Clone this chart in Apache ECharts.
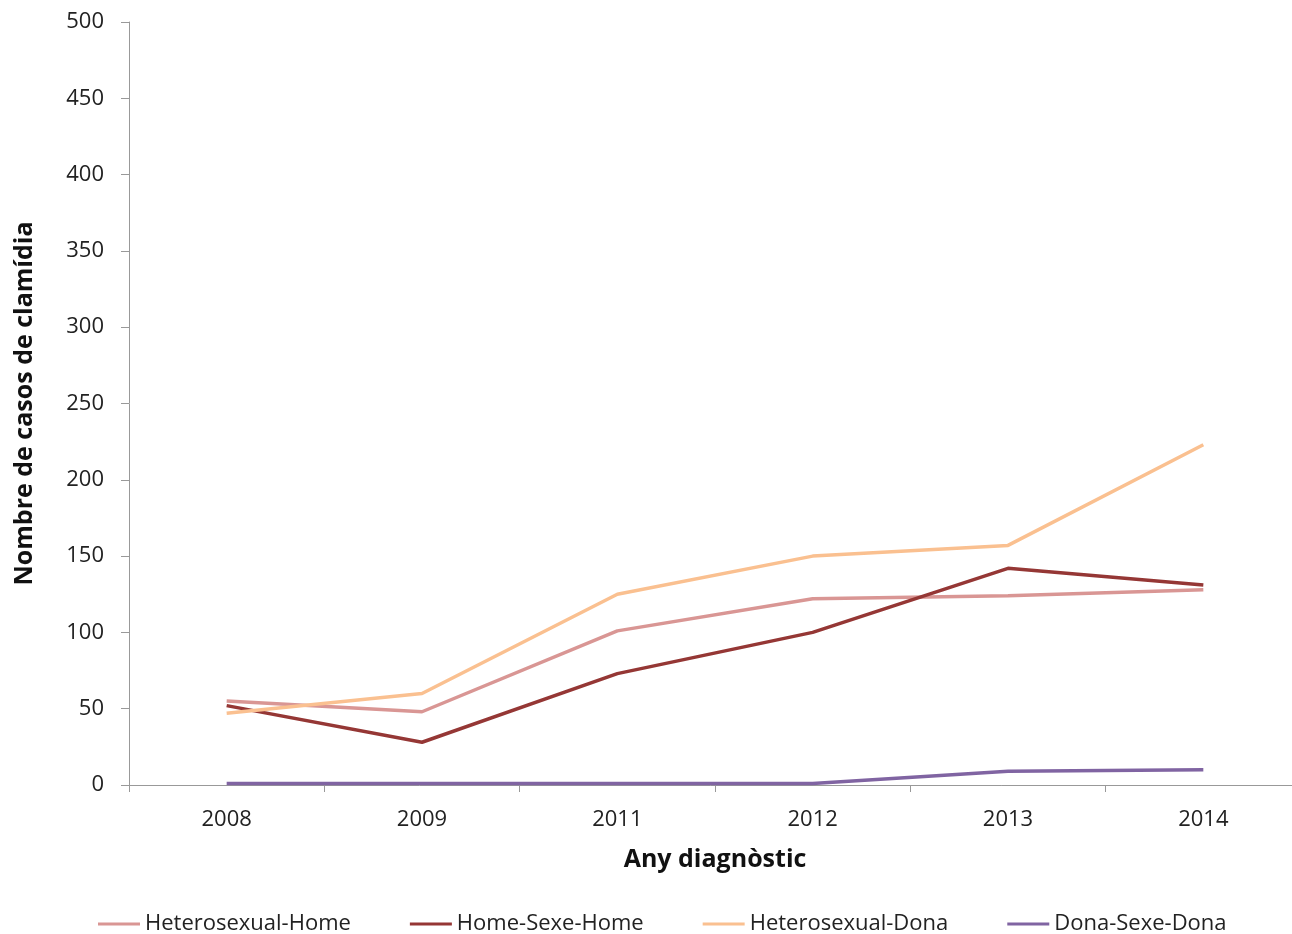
<!DOCTYPE html>
<html>
<head>
<meta charset="utf-8">
<script src="https://cdn.jsdelivr.net/npm/echarts@6/dist/echarts.min.js"></script>
<style>
  html, body { margin: 0; padding: 0; background: #ffffff; }
  #chart { width: 1292px; height: 934px; }
</style>
</head>
<body>
<div id="chart"></div>
<script>
// Diagnosis years on the category axis
const years = ['2008', '2009', '2011', '2012', '2013', '2014'];

// Chlamydia cases per transmission group
const heteroHome = [55, 48, 101, 122, 124, 128];
const homeSexeHome = [52, 28, 73, 100, 142, 131];
const heteroDona = [47, 60, 125, 150, 157, 223];
const donaSexeDona = [1, 1, 1, 1, 9, 10];

const seriesNames = ['Heterosexual-Home', 'Home-Sexe-Home', 'Heterosexual-Dona', 'Dona-Sexe-Dona'];
const seriesColors = ['#D99694', '#953735', '#FAC090', '#8064A2'];
const seriesData = [heteroHome, homeSexeHome, heteroDona, donaSexeDona];

const FONT = '"Open Sans", "Noto Sans", sans-serif';

const chart = echarts.init(document.getElementById('chart'), null, { renderer: 'canvas' });

chart.setOption({
  animation: false,
  backgroundColor: '#ffffff',
  textStyle: { fontFamily: FONT },
  grid: { left: 129, right: -9, top: 22, bottom: 149, containLabel: false, outerBoundsMode: 'none' },
  legend: {
    bottom: -1,
    left: 98,
    padding: 0,
    icon: 'rect',
    itemWidth: 42,
    itemHeight: 3,
    itemGap: 59,
    textStyle: { fontFamily: FONT, fontSize: 22, color: '#222', padding: [0, 0, 0, 0] },
    data: seriesNames
  },
  xAxis: {
    type: 'category',
    data: years,
    boundaryGap: true,
    name: 'Any diagnòstic',
    nameLocation: 'middle',
    nameGap: 62,
    nameTextStyle: { fontFamily: FONT, fontSize: 25, fontWeight: 'bold', color: '#111' },
    axisLine: { lineStyle: { color: '#999', width: 1 } },
    axisTick: { show: true, length: 7, lineStyle: { color: '#999' } },
    axisLabel: { margin: 24, fontSize: 22, color: '#222', fontFamily: FONT },
    splitLine: { show: false }
  },
  yAxis: {
    type: 'value',
    min: 0,
    max: 500,
    interval: 50,
    name: 'Nombre de casos de clamídia',
    nameLocation: 'middle',
    nameGap: 92,
    nameTextStyle: { fontFamily: FONT, fontSize: 25, fontWeight: 'bold', color: '#111' },
    axisLine: { show: true, lineStyle: { color: '#999', width: 1 } },
    axisTick: { show: true, length: 8, lineStyle: { color: '#999' } },
    axisLabel: { margin: 25, fontSize: 22, color: '#222', fontFamily: FONT },
    splitLine: { show: false }
  },
  series: seriesNames.map((name, i) => ({
    name: name,
    type: 'line',
    data: seriesData[i],
    symbol: 'none',
    color: seriesColors[i],
    lineStyle: { width: 3.5, color: seriesColors[i] },
    z: i === 3 ? 5 : 2 + i
  }))
});
</script>
</body>
</html>
